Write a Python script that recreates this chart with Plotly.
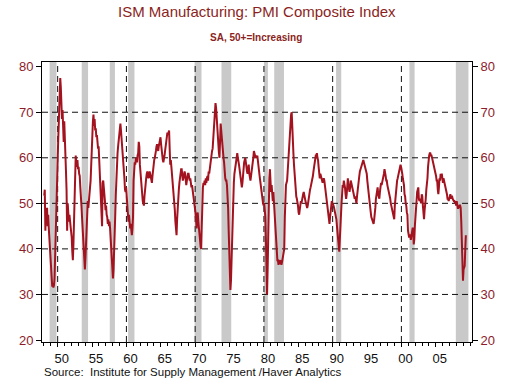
import plotly.graph_objects as go

# ---------------- data (monthly ISM PMI, SA) ----------------
start_year = 1948
pmi_1940s = [51.7, 53.0, 44.0, 48.0, 46.5, 49.0, 45.0, 47.5, 44.5, 42.0, 40.5, 38.5,
             36.0, 33.5, 31.7, 32.5, 31.5, 32.0, 33.5, 38.0, 44.0, 49.5, 55.0, 58.5]
pmi_1950s = [62.0, 66.0, 70.5, 74.0, 77.5, 75.5, 71.0, 68.5, 70.5, 67.5, 63.5, 68.0,
             62.0, 60.0, 57.0, 53.0, 44.0, 50.0, 48.0, 46.0, 47.5, 46.5, 45.0, 44.0,
             42.5, 39.5, 37.5, 41.0, 48.0, 53.5, 58.0, 60.5, 59.0, 58.0, 59.5, 57.5,
             58.0, 56.5, 56.0, 53.5, 52.0, 49.5, 47.0, 44.0, 41.0, 38.5, 36.0, 35.5,
             38.0, 42.0, 45.5, 48.5, 50.5, 49.0, 51.5, 52.0, 53.5, 55.0, 59.0, 63.5,
             66.5, 68.0, 69.5, 67.0, 68.5, 66.0, 66.5, 64.5, 65.0, 63.5, 62.0, 62.5,
             60.0, 56.0, 55.0, 51.0, 47.0, 45.0, 54.5, 55.0, 53.5, 52.5, 50.5, 48.5,
             49.5, 47.5, 47.0, 45.5, 46.5, 45.0, 46.0, 44.5, 42.5, 40.0, 38.0, 35.5,
             33.5, 35.5, 38.5, 43.0, 47.5, 52.0, 56.0, 59.5, 61.0, 62.5, 64.0, 65.5,
             66.0, 67.5, 66.0, 64.5, 62.5, 61.0, 59.5, 58.0, 55.5, 53.0, 52.5, 53.5]
pmi_1960s = [51.0, 48.0, 47.5, 46.0, 47.5, 45.5, 44.5, 45.5, 44.0, 43.0, 44.5, 47.0,
             55.0, 58.0, 59.0, 58.5, 60.0, 59.5, 59.0, 60.5, 61.0, 63.5, 62.5, 58.5,
             57.0, 54.5, 52.0, 51.0, 50.5, 50.0, 49.5, 51.5, 53.5, 54.5, 55.5, 56.5,
             57.0, 56.0, 55.5, 56.0, 57.0, 56.5, 55.5, 55.0, 54.5, 56.0, 57.5, 59.0,
             59.5, 60.0, 60.5, 61.5, 62.5, 63.0, 62.0, 61.5, 62.5, 63.5, 64.0, 64.5,
             63.0, 61.0, 60.5, 59.5, 59.0, 59.5, 60.5, 61.5, 62.5, 63.5, 64.5, 65.5,
             65.0, 65.5, 66.0, 62.0, 58.5, 59.5, 58.0, 56.5, 55.5, 54.5, 52.5, 51.0,
             48.5, 46.0, 43.5, 43.0, 46.5, 50.0, 51.5, 53.0, 54.5, 56.0, 56.5, 57.5,
             57.5, 56.5, 55.0, 55.5, 56.5, 57.0, 56.5, 55.0, 54.0, 55.0, 56.0, 56.5,
             56.5, 56.0, 55.0, 55.5, 54.5, 53.5, 54.0, 53.0, 52.5, 52.0, 50.5, 49.0]
pmi_1970s = [48.0, 46.5, 44.5, 47.5, 48.0, 46.0, 45.0, 43.0, 42.0, 40.5, 40.0, 45.0,
             51.0, 53.5, 54.5, 54.0, 55.0, 54.0, 55.5, 54.5, 55.5, 56.0, 55.0, 57.0,
             56.5, 57.5, 59.0, 60.0, 61.0, 61.5, 62.0, 64.0, 66.5, 68.0, 70.0, 72.0,
             71.0, 68.5, 67.0, 65.0, 63.5, 61.0, 60.0, 64.5, 67.5, 66.0, 64.0, 62.5,
             61.0, 60.0, 59.0, 56.5, 55.5, 55.0, 55.0, 54.0, 52.0, 49.0, 44.0, 39.5,
             31.5, 31.0, 33.0, 38.0, 44.0, 48.5, 52.5, 54.5, 56.5, 57.5, 58.0, 59.5,
             60.5, 61.0, 60.0, 59.5, 58.5, 57.5, 56.5, 55.5, 54.5, 53.5, 54.5, 56.5,
             58.0, 59.0, 59.5, 60.0, 59.0, 57.5, 57.0, 56.5, 58.0, 58.5, 56.5, 55.5,
             55.0, 56.0, 57.5, 58.5, 59.0, 60.0, 61.5, 61.0, 60.0, 60.0, 60.5, 60.0,
             60.5, 59.0, 58.5, 57.5, 56.0, 55.0, 54.0, 52.5, 51.0, 50.5, 50.0, 49.5]
pmi_1980s = [50.0, 48.5, 47.0, 42.0, 36.0, 30.0, 35.5, 45.5, 50.5, 55.5, 57.5, 54.0,
             52.5, 54.0, 51.5, 50.5, 52.5, 50.0, 48.0, 45.0, 42.0, 40.0, 38.5, 37.5,
             37.5, 36.5, 37.0, 37.5, 37.5, 37.0, 36.5, 37.0, 38.0, 38.5, 39.5, 40.0,
             47.0, 53.0, 54.0, 54.5, 55.0, 57.0, 59.5, 61.5, 63.5, 66.0, 68.0, 69.5,
             70.0, 65.0, 62.5, 61.0, 58.5, 56.0, 54.5, 52.5, 51.5, 51.0, 50.5, 49.5,
             48.0, 47.5, 48.5, 49.5, 50.5, 50.0, 51.0, 51.5, 52.0, 52.5, 51.5, 51.0,
             50.5, 50.0, 49.5, 49.0, 49.5, 50.5, 52.0, 52.5, 53.0, 53.5, 54.0, 54.5,
             55.5, 56.0, 57.0, 58.0, 58.5, 59.0, 60.5, 60.5, 61.0, 60.0, 59.5, 58.0,
             56.0, 55.5, 56.5, 56.0, 55.5, 55.0, 54.5, 55.0, 55.5, 55.0, 54.0, 53.0,
             52.0, 51.0, 49.5, 48.0, 47.0, 46.0, 45.5, 47.0, 48.5, 49.5, 50.5, 50.0]
pmi_1990s = [49.8, 49.5, 49.0, 48.5, 48.0, 47.5, 46.5, 45.0, 43.5, 41.5, 40.0, 39.4,
             42.0, 46.0, 48.5, 50.0, 52.0, 54.0, 53.5, 55.0, 54.5, 53.5, 52.0, 51.0,
             52.0, 54.0, 55.5, 54.0, 53.0, 52.5, 53.5, 55.0, 54.5, 54.0, 53.5, 53.0,
             52.5, 51.5, 51.0, 51.5, 50.5, 50.0, 51.5, 53.0, 54.0, 55.0, 56.0, 57.0,
             57.5, 58.0, 58.5, 58.5, 59.0, 59.5, 59.0, 58.5, 58.0, 57.5, 57.0, 56.5,
             55.0, 53.5, 52.5, 51.0, 50.0, 49.0, 48.0, 47.0, 46.5, 46.0, 45.5, 45.5,
             46.5, 47.5, 49.0, 51.0, 52.0, 53.0, 53.5, 52.0, 51.5, 51.0, 52.5, 53.5,
             54.5, 54.0, 54.5, 55.5, 56.0, 56.5, 57.5, 57.0, 56.0, 55.0, 55.0, 54.0,
             53.5, 53.0, 52.5, 51.5, 51.0, 50.0, 49.5, 49.0, 48.5, 48.0, 47.0, 46.5,
             49.5, 51.5, 53.0, 54.0, 55.0, 55.5, 56.0, 56.5, 57.5, 58.0, 58.5, 58.0]
pmi_2000s = [57.5, 56.5, 55.5, 55.0, 54.0, 52.0, 51.5, 50.0, 49.5, 48.0, 47.5, 44.0,
             43.0, 42.5, 43.0, 43.0, 42.0, 43.0, 43.0, 44.5, 44.5, 41.0, 42.0, 45.0,
             47.5, 50.5, 52.5, 52.5, 53.0, 53.5, 51.0, 50.5, 51.0, 50.0, 50.0, 52.0,
             51.5, 49.5, 47.0, 46.5, 48.5, 49.5, 51.0, 53.0, 54.0, 55.5, 58.0, 60.0,
             60.5, 61.0, 61.0, 60.5, 60.5, 60.0, 59.5, 58.5, 58.0, 57.5, 57.0, 57.0,
             56.0, 55.0, 55.0, 53.0, 52.0, 53.5, 55.5, 55.0, 56.5, 56.0, 56.5, 55.0,
             54.5, 55.5, 55.0, 54.0, 53.5, 53.0, 52.5, 52.0, 51.0, 51.0, 50.5, 51.5,
             51.5, 52.0, 51.0, 51.5, 51.5, 51.0, 50.5, 50.5, 50.5, 50.0, 50.5, 49.5,
             50.5, 49.5, 49.0, 49.0, 49.5, 49.5, 49.5, 49.0, 46.0, 42.0, 37.5, 33.0,
             35.5, 35.8, 36.3, 40.0, 43.0]

rec_start = [1948.83, 1953.50, 1957.58, 1960.25, 1969.92, 1973.83, 1980.00, 1981.50, 1990.50, 2001.17, 2007.92]
rec_end = [1949.83, 1954.42, 1958.33, 1961.17, 1970.92, 1975.25, 1980.58, 1982.92, 1991.25, 2001.92, 2009.75]

x_tick_vals = [1950, 1955, 1960, 1965, 1970, 1975, 1980, 1985, 1990, 1995, 2000, 2005]
x_tick_text = ["50", "55", "60", "65", "70", "75", "80", "85", "90", "95", "00", "05"]
y_tick_vals = [20, 30, 40, 50, 60, 70, 80]
grid_y = [30, 40, 50, 60, 70]
grid_x = [1950, 1960, 1970, 1980, 1990, 2000]

# ---------------- build ----------------
pmi = pmi_1940s + pmi_1950s + pmi_1960s + pmi_1970s + pmi_1980s + pmi_1990s + pmi_2000s
months = [start_year + (i + 0.5) / 12 for i in range(len(pmi))]

FONT = "Liberation Sans, Arial, sans-serif"
MAROON = "#8e1b2a"
LINE = "#a3131f"

fig = go.Figure()
fig.add_trace(go.Scatter(x=months, y=pmi, mode="lines",
                         line=dict(color=LINE, width=2), hoverinfo="skip",
                         showlegend=False))
fig.add_trace(go.Scatter(x=[months[0]], y=[pmi[0]], yaxis="y2", mode="markers",
                         marker=dict(opacity=0), showlegend=False, hoverinfo="skip"))

shapes = []
for s, e in zip(rec_start, rec_end):
    shapes.append(dict(type="rect", xref="x", yref="paper", x0=s, x1=e, y0=0, y1=1,
                       fillcolor="#c9c9c9", line=dict(width=0), layer="below"))
for gy in grid_y:
    shapes.append(dict(type="line", xref="paper", yref="y", x0=0, x1=1, y0=gy, y1=gy,
                       line=dict(color="#111111", width=1, dash="6px,4px"), layer="below"))
for gx in grid_x:
    shapes.append(dict(type="line", xref="x", yref="paper", x0=gx, x1=gx, y0=0, y1=1,
                       line=dict(color="#111111", width=1, dash="6px,4px"), layer="below"))

yax = dict(range=[19.56, 81.03], tickvals=y_tick_vals, ticks="outside", ticklen=5,
           tickcolor="#000", tickfont=dict(family=FONT, size=13, color=MAROON),
           showgrid=False, zeroline=False, showline=True, linecolor="#000", linewidth=1)

fig.update_layout(
    width=510, height=379,
    margin=dict(l=42, r=38, t=62, b=37),
    paper_bgcolor="white", plot_bgcolor="white",
    hovermode=False,
    xaxis=dict(range=[1947.72, 2010.27], tickmode="array", tickvals=x_tick_vals,
               ticktext=x_tick_text, ticks="outside", ticklen=4, tickcolor="#000",
               ticklabelshift=4,
               tickfont=dict(family=FONT, size=13, color="#111"),
               minor=dict(dtick=1, tick0=1948, ticks="outside", ticklen=3, tickcolor="#000"),
               showgrid=False, zeroline=False, showline=True, linecolor="#000",
               linewidth=1, mirror=True),
    yaxis=dict(**yax, side="left", mirror=True),
    yaxis2=dict(**yax, side="right", overlaying="y", matches="y"),
    shapes=shapes,
    annotations=[
        dict(text="ISM Manufacturing: PMI Composite Index", xref="paper", yref="paper",
             x=0.5, y=1.182, xanchor="center", yanchor="middle", showarrow=False,
             font=dict(family=FONT, size=15, color="#8b1f22")),
        dict(text="<b>SA, 50+=Increasing</b>", xref="paper", yref="paper",
             x=0.497, y=1.088, xanchor="center", yanchor="middle", showarrow=False,
             font=dict(family=FONT, size=10, color="#8b1f22")),
        dict(text="Source:  Institute for Supply Management /Haver Analytics",
             xref="paper", yref="paper", x=0.0, y=-0.107, xanchor="left",
             yanchor="middle", showarrow=False,
             font=dict(family=FONT, size=11.5, color="#111")),
    ],
)

fig.write_html("out.html", config={"displayModeBar": False, "staticPlot": True},
               post_script="document.body.style.margin='0px';")
